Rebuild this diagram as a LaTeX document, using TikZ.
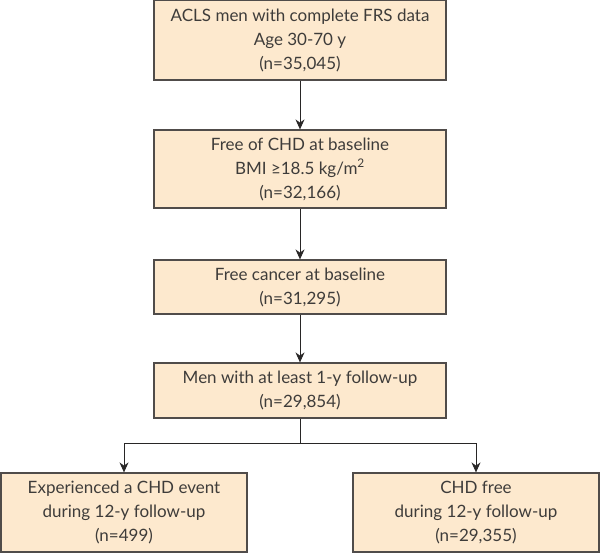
\documentclass[tikz,border=0pt]{standalone}
\usepackage{fontspec}
\setmainfont{Lato}
\usepackage{tikz}
\usetikzlibrary{arrows.meta}
\definecolor{boxfill}{RGB}{253,233,206}
\definecolor{boxline}{RGB}{80,76,74}
\definecolor{boxtext}{RGB}{62,60,58}
\definecolor{flowline}{RGB}{40,38,38}
\begin{document}
\begin{tikzpicture}[x=1pt,y=-1pt]

%
% Styles
%
\tikzstyle{stage} = [rectangle,draw=boxline,fill=boxfill,line width=1.2pt,
  text=boxtext,align=center,inner sep=0pt,minimum width=292pt,
  font=\fontsize{17}{24}\selectfont]
\tikzstyle{flow} = [-{Stealth[length=10pt,width=9pt]},line width=0.9pt,draw=flowline]

\useasboundingbox (0,0) rectangle (600,553);

\node[stage,minimum height=80pt] (acls) at (300, 40)
  {ACLS men with complete FRS data\\Age 30-70 y\\(n=35,045)};
\node[stage,minimum height=78pt] (chd) at (300, 169)
  {Free of CHD at baseline\\BMI ≥18.5 kg/m\textsuperscript{2}\\(n=32,166)};
\node[stage,minimum height=54pt] (cancer) at (300, 287)
  {Free cancer at baseline\\(n=31,295)};
\node[stage,minimum height=55pt] (fup) at (300, 390.5)
  {Men with at least 1-y follow-up\\(n=29,854)};
\node[stage,minimum width=246pt,minimum height=79pt] (event) at (124, 512.5)
  {Experienced a CHD event\\during 12-y follow-up\\(n=499)};
\node[stage,minimum width=246pt,minimum height=79pt] (free) at (476, 512.5)
  {CHD free\\during 12-y follow-up\\(n=29,355)};

\coordinate (split) at (300, 443);

\draw[flow] (acls) -- (chd);
\draw[flow] (chd) -- (cancer);
\draw[flow] (cancer) -- (fup);
\draw[line width=0.9pt,draw=flowline] (fup) -- (split);
\draw[flow] (split) -| (event);
\draw[flow] (split) -| (free);

\end{tikzpicture}
\end{document}
